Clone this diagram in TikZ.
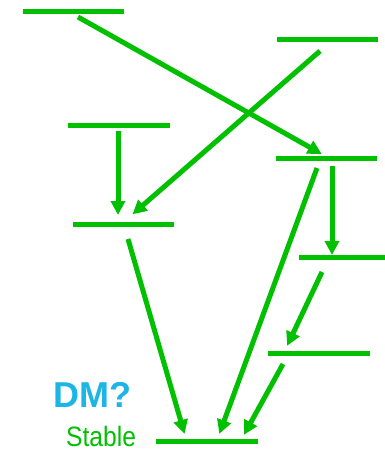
\documentclass[tikz,border=0pt]{standalone}
\usepackage{fontspec}
\setmainfont{Liberation Sans}
\usetikzlibrary{arrows.meta}
\definecolor{lvgreen}{RGB}{0,192,0}
\definecolor{dmcyan}{RGB}{28,181,230}
\begin{document}
\begin{tikzpicture}[x=1pt,y=-1pt,
  level/.style={draw=lvgreen,line width=5pt},
  decay/.style={draw=lvgreen,line width=5pt,-{Triangle[length=14pt,width=14pt]},shorten >=-2pt}]
\useasboundingbox (0,0) rectangle (385,452);
% levels
\coordinate (l1a) at (23,12);   \coordinate (l1b) at (124,12);
\coordinate (l2a) at (277,40);  \coordinate (l2b) at (378,40);
\coordinate (l3a) at (68,125);  \coordinate (l3b) at (170,125);
\coordinate (l4a) at (276,158); \coordinate (l4b) at (377,158);
\coordinate (l5a) at (73,224);  \coordinate (l5b) at (174,224);
\coordinate (l6a) at (299,257); \coordinate (l6b) at (385,257);
\coordinate (l7a) at (268,353); \coordinate (l7b) at (370,353);
\coordinate (l8a) at (156,441); \coordinate (l8b) at (258,441);
\foreach \i in {1,...,8} {\draw[level] (l\i a) -- (l\i b);}
% arrow ends
\coordinate (s1) at (78,17);   \coordinate (e1) at (320,153);
\coordinate (s2) at (320,51);  \coordinate (e2) at (134,213);
\coordinate (s3) at (118,131); \coordinate (e3) at (118,213);
\coordinate (s4) at (332,166); \coordinate (e4) at (332,253);
\coordinate (s5) at (317,168); \coordinate (e5) at (220,432);
\coordinate (s6) at (128,239); \coordinate (e6) at (184,432);
\coordinate (s7) at (322,272); \coordinate (e7) at (288,344);
\coordinate (s8) at (283,364); \coordinate (e8) at (245,433);
\foreach \i in {1,...,8} {\draw[decay] (s\i) -- (e\i);}
% labels
\node[anchor=base west,inner sep=0pt,text=dmcyan,font=\fontsize{36}{40}\selectfont\bfseries] (dm) at (53,407) {DM?};
\node[anchor=base west,inner sep=0pt,text=lvgreen,font=\fontsize{28}{32}\selectfont,xscale=0.88] (stable) at (66,446) {Stable};
\end{tikzpicture}
\end{document}
